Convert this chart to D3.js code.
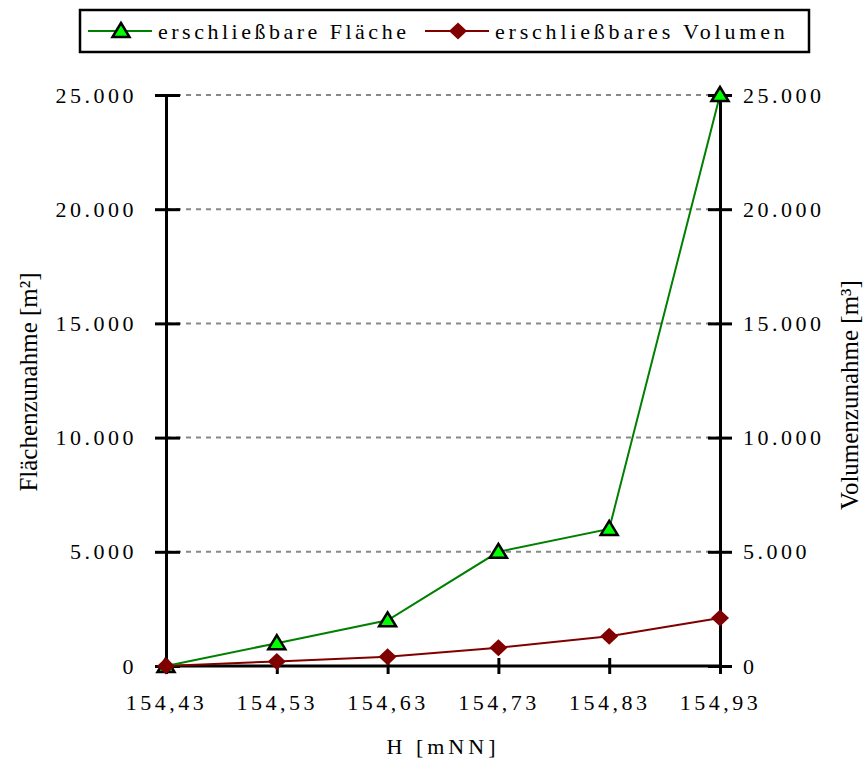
<!DOCTYPE html>
<html lang="de">
<head>
    <meta charset="UTF-8">
    <title>Flächen- und Volumenzunahme</title>
    <script src="https://cdn.jsdelivr.net/npm/d3@7"></script>
    <style>
        html, body {
            margin: 0;
            padding: 0;
            background: #fff;
            overflow: hidden;
        }
    </style>
</head>
<body>
</body>
<script>
    let width = 866;
    let height = 764;
    let serif = '"Liberation Serif", "Times New Roman", serif';

    // Wasserstand H [mNN]
    let levels = ['154,43', '154,53', '154,63', '154,73', '154,83', '154,93'];
    // erschließbare Fläche [m²]
    let flaeche = [0, 1000, 2000, 5000, 6000, 25000];
    // erschließbares Volumen [m³]
    let volumen = [0, 200, 400, 800, 1300, 2100];
    let yTicks = [0, 5000, 10000, 15000, 20000, 25000];

    let margin = {left: 166, right: 146, top: 95, bottom: 98};

    let svg = d3.select('body').append('svg')
        .attr('width', width)
        .attr('height', height)
        .style('font-family', serif);

    let x = d3.scalePoint()
        .domain(levels)
        .range([margin.left, width - margin.right]);

    let y = d3.scaleLinear()
        .domain([0, 25000])
        .range([height - margin.bottom, margin.top]);

    let fmt = d => d3.format(',')(d).replace(/,/g, '.');

    // Gitterlinien
    svg.append('g')
        .selectAll('line')
        .data(yTicks.filter(d => d > 0))
        .enter().append('line')
        .attr('x1', margin.left)
        .attr('x2', width - margin.right)
        .attr('y1', d => y(d))
        .attr('y2', d => y(d))
        .attr('stroke', '#888')
        .attr('stroke-width', 2)
        .attr('stroke-dasharray', '5,5');

    // Achsen
    let axisStyle = g => {
        g.attr('font-family', serif).attr('font-size', 22);
        g.select('.domain').attr('stroke', '#000').attr('stroke-width', 3);
        g.selectAll('.tick line').attr('stroke', '#000').attr('stroke-width', 3);
        g.selectAll('.tick text')
            .style('font-family', serif)
            .style('font-size', '22px')
            .style('letter-spacing', '3.5px')
            .attr('fill', '#000');
    };

    let gLeft = svg.append('g')
        .attr('transform', `translate(${margin.left},0)`)
        .call(d3.axisLeft(y).tickValues(yTicks).tickFormat(fmt).tickSizeOuter(0).tickSize(11).tickPadding(18))
        .call(axisStyle);
    gLeft.selectAll('.tick line').attr('x2', 14).attr('x1', -11);

    let gRight = svg.append('g')
        .attr('transform', `translate(${width - margin.right},0)`)
        .call(d3.axisRight(y).tickValues(yTicks).tickFormat(fmt).tickSizeOuter(0).tickSize(12).tickPadding(11))
        .call(axisStyle);
    gRight.selectAll('.tick line').attr('x1', -12);

    let gBottom = svg.append('g')
        .attr('transform', `translate(0,${height - margin.bottom})`)
        .call(d3.axisBottom(x).tickSizeOuter(0).tickSize(8).tickPadding(20))
        .call(axisStyle);
    gBottom.selectAll('.tick line').attr('y1', -8);
    gBottom.select('.domain').attr('d', `M${margin.left},0H${width - margin.right}`);

    // Achsentitel
    svg.append('text')
        .attr('x', x.range()[0] / 2 + x.range()[1] / 2)
        .attr('y', 754)
        .attr('text-anchor', 'middle')
        .style('font-family', serif)
        .style('font-size', '22px')
        .style('letter-spacing', '4px')
        .text('H [mNN]');

    svg.append('text')
        .attr('transform', 'translate(37,382) rotate(-90)')
        .attr('text-anchor', 'middle')
        .style('font-family', serif)
        .style('font-size', '25px')
        .text('Flächenzunahme [m²]');

    svg.append('text')
        .attr('transform', 'translate(858,395) rotate(-90)')
        .attr('text-anchor', 'middle')
        .style('font-family', serif)
        .style('font-size', '25px')
        .text('Volumenzunahme [m³]');

    // Symbole
    let tri = 'M0,-8L8.5,6L-8.5,6Z';
    let dia = 'M0,-8.5L9,0L0,8.5L-9,0Z';

    // Linien
    let line = d3.line()
        .x((d, i) => x(levels[i]))
        .y(d => y(d));

    svg.append('path')
        .datum(volumen)
        .attr('d', line)
        .attr('fill', 'none')
        .attr('stroke', '#800000')
        .attr('stroke-width', 2);

    svg.append('path')
        .datum(flaeche)
        .attr('d', line)
        .attr('fill', 'none')
        .attr('stroke', '#008000')
        .attr('stroke-width', 2);

    svg.append('g')
        .selectAll('path')
        .data(flaeche)
        .enter().append('path')
        .attr('d', tri)
        .attr('transform', (d, i) => `translate(${x(levels[i])},${y(d)})`)
        .attr('fill', '#00ff00')
        .attr('stroke', '#000')
        .attr('stroke-width', 2.5);

    svg.append('g')
        .selectAll('path')
        .data(volumen)
        .enter().append('path')
        .attr('d', dia)
        .attr('transform', (d, i) => `translate(${x(levels[i])},${y(d)})`)
        .attr('fill', '#800000');

    // Legende
    let legend = svg.append('g');
    legend.append('rect')
        .attr('x', 80)
        .attr('y', 10)
        .attr('width', 729)
        .attr('height', 42)
        .attr('fill', '#fff')
        .attr('stroke', '#000')
        .attr('stroke-width', 2.5);

    let items = [
        {name: 'erschließbare Fläche', color: '#008000', sym: tri, fill: '#00ff00', stroke: '#000', x0: 88, ls: 3.5},
        {name: 'erschließbares Volumen', color: '#800000', sym: dia, fill: '#800000', stroke: 'none', x0: 425, ls: 3.8}
    ];
    items.forEach(it => {
        legend.append('line')
            .attr('x1', it.x0).attr('x2', it.x0 + 64)
            .attr('y1', 31).attr('y2', 31)
            .attr('stroke', it.color).attr('stroke-width', 2);
        legend.append('path')
            .attr('d', it.sym)
            .attr('transform', `translate(${it.x0 + 33},31)`)
            .attr('fill', it.fill)
            .attr('stroke', it.stroke)
            .attr('stroke-width', 2.5);
        legend.append('text')
            .attr('x', it.x0 + 70)
            .attr('y', 39)
            .style('font-family', serif)
            .style('font-size', '22px')
            .style('letter-spacing', it.ls + 'px')
            .text(it.name);
    });
</script>
</html>
